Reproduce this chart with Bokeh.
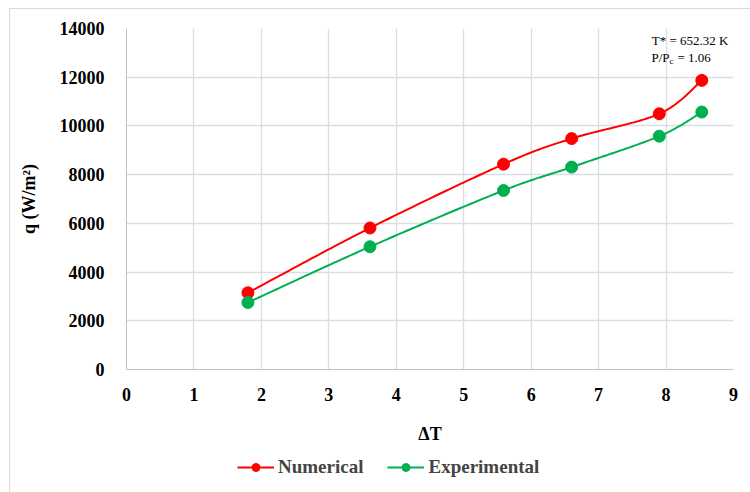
import numpy as np
from bokeh.plotting import figure
from bokeh.layouts import column
from bokeh.models import (Label, Legend, LegendItem, FixedTicker, Range1d,
                          InlineStyleSheet)
from bokeh.embed import file_html
from bokeh.resources import INLINE

# Heat flux vs. wall superheat
delta_t = [1.80, 3.61, 5.59, 6.60, 7.90, 8.53]
q_numerical = [3150, 5810, 8430, 9480, 10500, 11870]
q_experimental = [2750, 5040, 7350, 8310, 9580, 10570]

x_ticks = [0, 1, 2, 3, 4, 5, 6, 7, 8, 9]
y_ticks = [0, 2000, 4000, 6000, 8000, 10000, 12000, 14000]

RED = "#ff0000"
GREEN = "#00b050"
SERIF = "Liberation Serif"


def smooth(xs, ys, steps=40):
    """Cubic Bezier (Catmull-Rom) curve through the points, like a smoothed line."""
    xs = np.asarray(xs, float)
    ys = np.asarray(ys, float)
    px = np.concatenate([[xs[0]], xs, [xs[-1]]])
    py = np.concatenate([[ys[0]], ys, [ys[-1]]])
    t = np.linspace(0, 1, steps)
    out_x, out_y = [], []
    for i in range(1, len(px) - 2):
        p0x, p1x, p2x, p3x = px[i - 1], px[i], px[i + 1], px[i + 2]
        p0y, p1y, p2y, p3y = py[i - 1], py[i], py[i + 1], py[i + 2]
        c1x, c1y = p1x + (p2x - p0x) / 6, p1y + (p2y - p0y) / 6
        c2x, c2y = p2x - (p3x - p1x) / 6, p2y - (p3y - p1y) / 6
        bx = (1 - t) ** 3 * p1x + 3 * (1 - t) ** 2 * t * c1x + 3 * (1 - t) * t ** 2 * c2x + t ** 3 * p2x
        by = (1 - t) ** 3 * p1y + 3 * (1 - t) ** 2 * t * c1y + 3 * (1 - t) * t ** 2 * c2y + t ** 3 * p2y
        out_x.extend(bx if i == 1 else bx[1:])
        out_y.extend(by if i == 1 else by[1:])
    return out_x, out_y


p = figure(width=750, height=447, output_backend="svg", toolbar_location=None,
           x_range=Range1d(0, 9), y_range=Range1d(0, 14000),
           min_border_left=126, min_border_right=17,
           min_border_top=28, min_border_bottom=78)
p.outline_line_color = None
p.background_fill_color = None
p.border_fill_color = None

# axes
for ax in (p.xaxis[0], p.yaxis[0]):
    ax.major_tick_line_color = None
    ax.minor_tick_line_color = None
    ax.axis_line_color = "#b8c3d6"
    ax.axis_line_width = 1
    ax.major_label_text_font = SERIF
    ax.major_label_text_font_style = "bold"
    ax.major_label_text_font_size = "18px"
    ax.major_label_text_color = "#000000"
    ax.axis_label_text_font = SERIF
    ax.axis_label_text_font_style = "bold"
    ax.axis_label_text_font_size = "18px"
    ax.axis_label_text_color = "#000000"
p.xaxis.ticker = FixedTicker(ticks=x_ticks)
p.yaxis.ticker = FixedTicker(ticks=y_ticks)
p.xaxis.major_label_standoff = 12
p.yaxis.major_label_standoff = 16
p.xaxis.axis_label = "ΔT"
p.xaxis.axis_label_standoff = 20
p.yaxis.axis_label = "q (W/m²)"
p.yaxis.axis_label_standoff = 18

p.xgrid.ticker = FixedTicker(ticks=x_ticks)
p.ygrid.ticker = FixedTicker(ticks=y_ticks)
p.grid.grid_line_color = "#d9dde6"
p.grid.grid_line_width = 1.3

# series
nx, ny = smooth(delta_t, q_numerical)
ex, ey = smooth(delta_t, q_experimental)
p.line(nx, ny, line_color=RED, line_width=2)
p.scatter(delta_t, q_numerical, size=12, fill_color=RED, line_color=RED)
p.line(ex, ey, line_color=GREEN, line_width=2)
p.scatter(delta_t, q_experimental, size=12, fill_color=GREEN, line_color=GREEN)

# conditions note
note = dict(x_units="screen", y_units="screen", text_font=SERIF,
            text_font_size="13px", text_baseline="middle", text_color="#000000")
p.add_layout(Label(x=728 - 126, y=369 - 40, text="T* = 652.32 K", text_align="right", **note))
p.add_layout(Label(x=651 - 126, y=369 - 57, text="P/P", text_align="left", **note))
p.add_layout(Label(x=669 - 126, y=369 - 60, text="c", text_align="left",
                   **{**note, "text_font_size": "9px"}))
p.add_layout(Label(x=677 - 126, y=369 - 57, text="= 1.06", text_align="left", **note))

# legend strip underneath the chart; its renderers hold a single NaN entry
# so that only their styles show up as legend keys
nan = [float("nan")]
lg = figure(width=750, height=45, output_backend="svg", toolbar_location=None,
            x_axis_type=None, y_axis_type=None, x_range=Range1d(0, 1), y_range=Range1d(0, 1),
            min_border=0)
lg.outline_line_color = None
lg.background_fill_color = None
lg.border_fill_color = None
lg.grid.visible = False
k_ln = lg.line(nan, nan, line_color=RED, line_width=2)
k_sn = lg.scatter(nan, nan, size=12, fill_color=RED, line_color=RED)
k_le = lg.line(nan, nan, line_color=GREEN, line_width=2)
k_se = lg.scatter(nan, nan, size=12, fill_color=GREEN, line_color=GREEN)
legend = Legend(items=[LegendItem(label="Numerical", renderers=[k_ln, k_sn]),
                       LegendItem(label="Experimental", renderers=[k_le, k_se])],
                orientation="horizontal", location=(111, 14),
                label_text_font=SERIF, label_text_font_style="bold",
                label_text_font_size="19px", glyph_width=37, glyph_height=20,
                label_height=20, label_standoff=4, spacing=24, padding=0, margin=0,
                border_line_color=None, background_fill_alpha=0)
lg.add_layout(legend, "center")

# thin light frame around the whole chart
chart_border = InlineStyleSheet(css="""
:host { background: white; }
:host::after {
  content: "";
  position: absolute;
  left: 9px; top: 8px; right: -30px; bottom: -30px;
  border: 1.5px solid #d9d9d9;
  pointer-events: none;
}
""")
layout = column(p, lg, spacing=0, stylesheets=[chart_border])

open("out.html", "w").write(file_html(layout, INLINE))
